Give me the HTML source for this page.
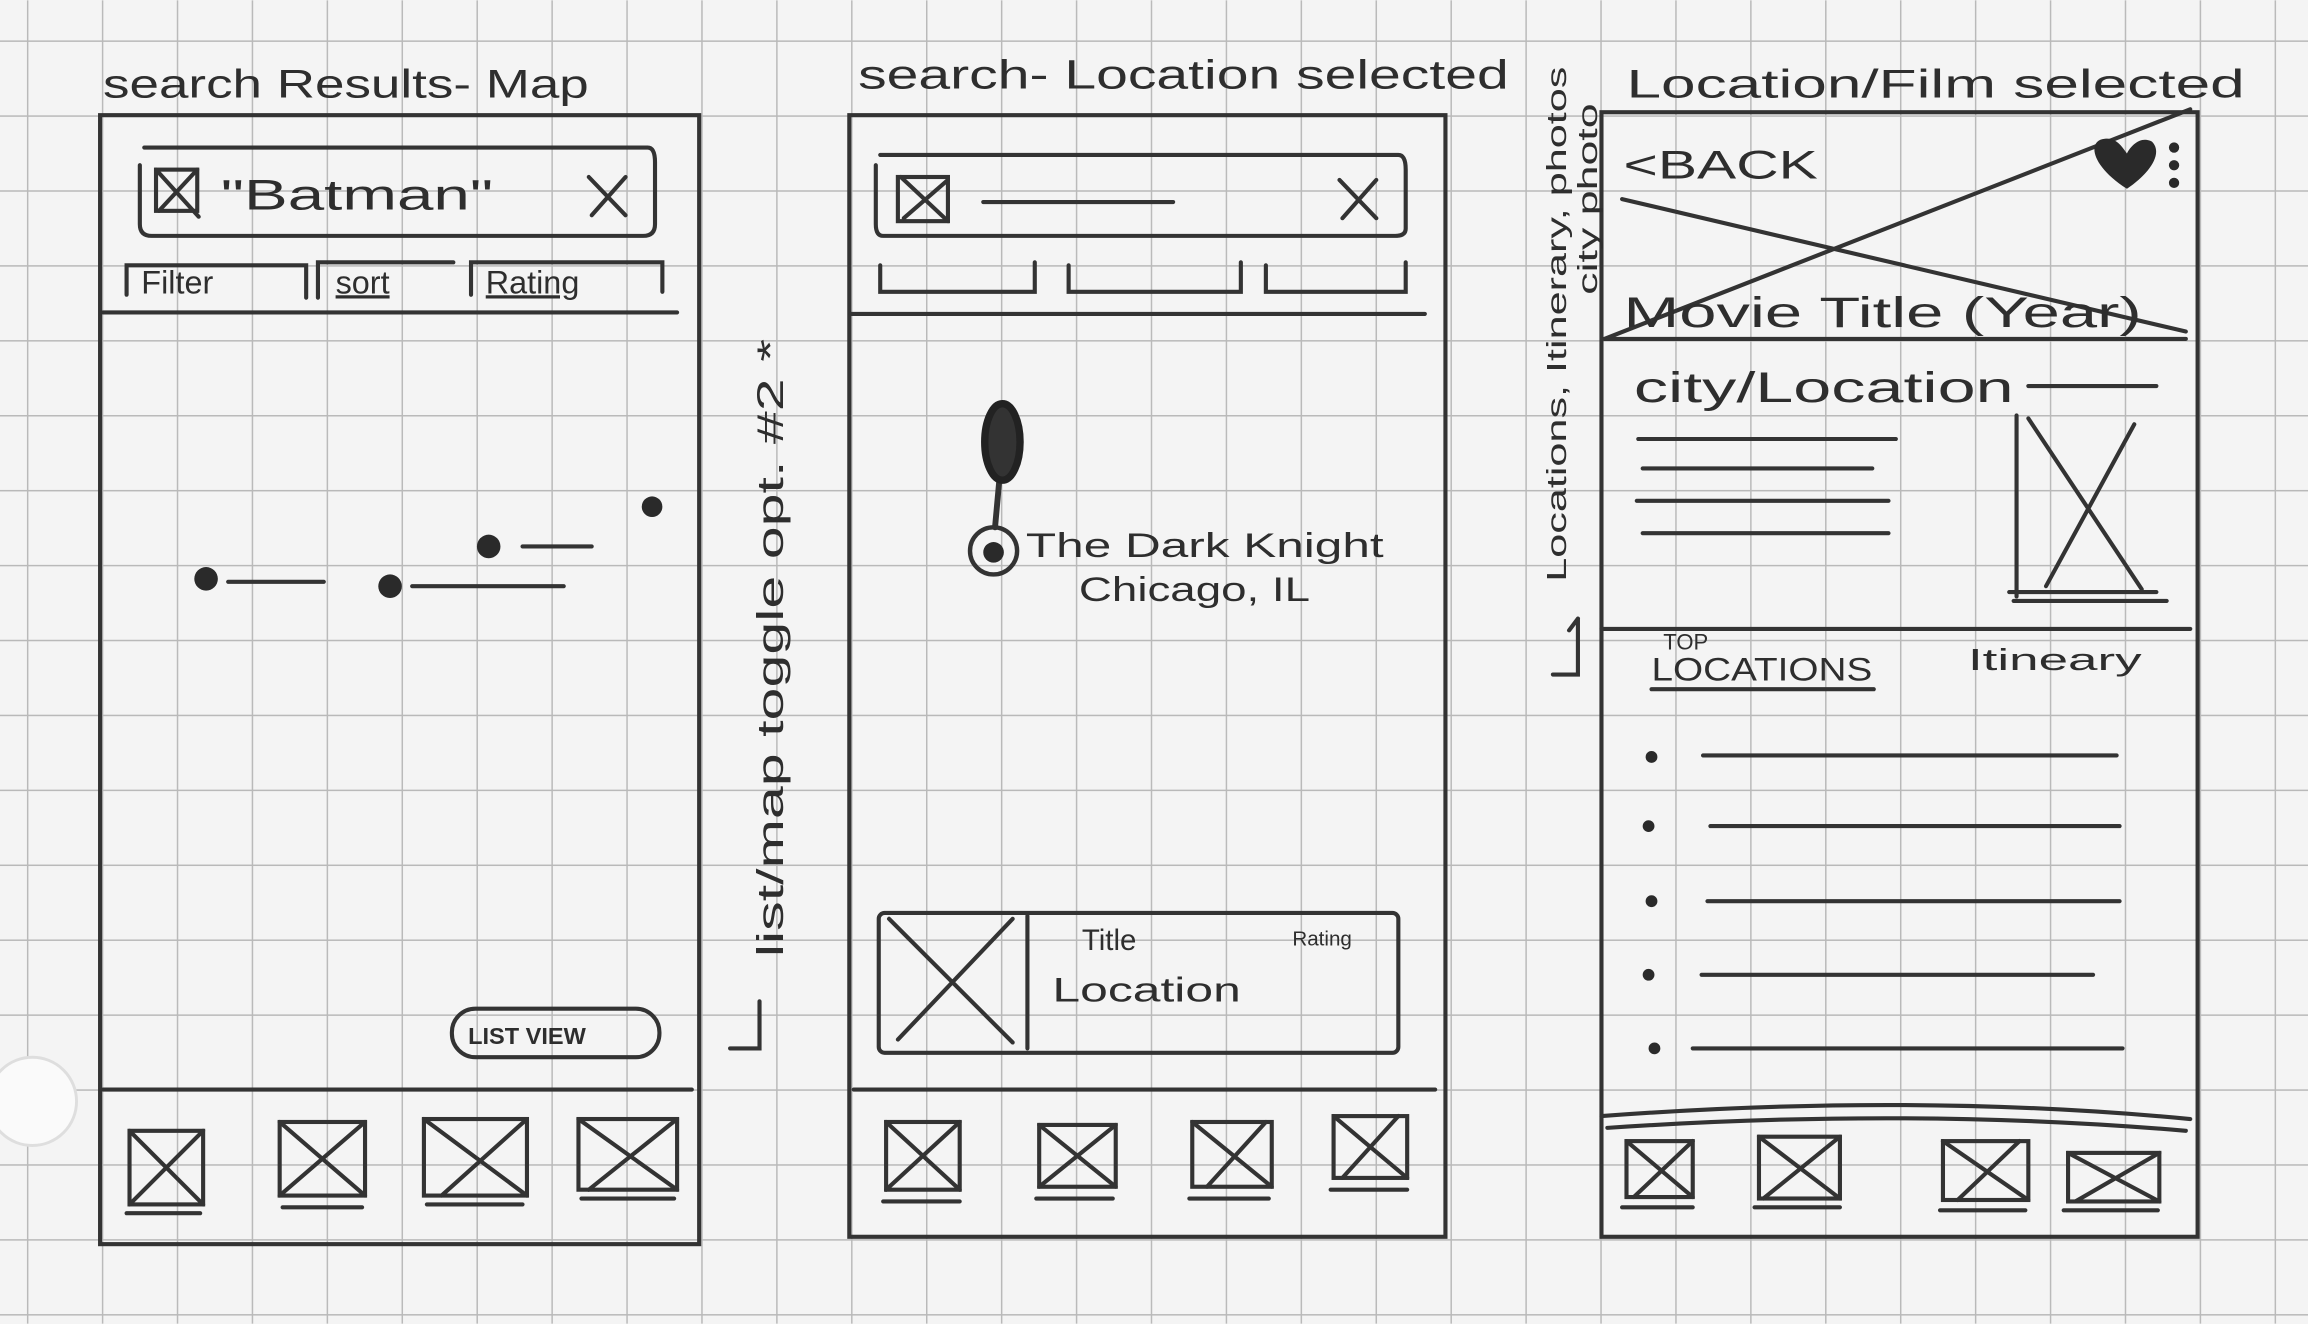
<!DOCTYPE html>
<html><head><meta charset="utf-8"><style>
html,body{margin:0;padding:0;background:#f3f3f3;}
svg{display:block}
text{font-family:"Liberation Sans","DejaVu Sans",sans-serif;fill:#2e2e2e;}
</style></head><body>
<svg width="2308" height="1324" viewBox="0 0 1568 899" xmlns="http://www.w3.org/2000/svg">
<defs>
<pattern id="g" x="18.3" y="27.2" width="50.9" height="50.9" patternUnits="userSpaceOnUse">
<path d="M0 0V50.9M0 0H50.9" stroke="#b9b9b9" stroke-width="2" fill="none"/>
</pattern>
</defs>
<rect width="1568" height="899" fill="#f4f4f4"/>
<rect width="1568" height="899" fill="url(#g)"/>
<circle cx="22" cy="748" r="30" fill="#fafafa" stroke="#dedede" stroke-width="2"/>

<g stroke="#333" stroke-width="2.8" fill="none" stroke-linecap="round">
<rect x="68" y="78" width="407" height="767"/>
<path d="M98 100H440Q445 100 445 110V152Q445 160 437 160H103Q95 160 95 152V112"/>
<rect x="106" y="115" width="28" height="28"/><path d="M106 115L135 147M134 115L108 143"/>
<path d="M400 120L425 146M425 120L402 146"/>
<path d="M86 200V180H208V202M216 202V178H308M320 200V178H450V198"/>
<path d="M70 212H460"/>
<path d="M155 395H220M280 398H383M355 371H402"/>
<rect x="307" y="685" width="141" height="33" rx="16"/>
<path d="M70 740H470"/>
<rect x="88" y="768" width="50" height="50"/><path d="M88 768L138 818M138 768L88 818M86 824H136"/>
<rect x="190" y="762" width="58" height="50"/><path d="M190 762L248 812M248 762L190 812M192 820H246"/>
<rect x="288" y="760" width="70" height="52"/><path d="M288 760L358 812M358 760L300 812M290 818H355"/>
<rect x="393" y="760" width="67" height="48"/><path d="M393 760L460 808M460 760L400 808M395 814H458"/>
<path d="M516 680V712H496"/>
<rect x="577" y="78" width="405" height="762"/>
<path d="M598 105H950Q955 105 955 115V155Q955 160 948 160H600Q595 160 595 152V112"/>
<rect x="610" y="120" width="34" height="30"/><path d="M612 120L644 150M644 122L614 148"/>
<path d="M668 137H797M910 122L935 148M935 122L912 148"/>
<path d="M598 180V198H703V178M726 180V198H843V178M860 180V198H955V178"/>
<path d="M578 213H968"/>
<path d="M679 325L676 358" stroke-width="4"/>
<rect x="597" y="620" width="353" height="95" rx="4"/>
<path d="M604 624L688 708M688 624L610 706M698 622V712"/>
<path d="M580 740H975"/>
<rect x="602" y="762" width="50" height="46"/><path d="M602 762L652 808M652 762L602 808M600 816H652"/>
<rect x="706" y="764" width="52" height="42"/><path d="M706 764L758 806M758 764L706 806M704 814H756"/>
<rect x="810" y="762" width="54" height="44"/><path d="M810 762L864 806M860 762L820 806M808 814H862"/>
<rect x="906" y="758" width="50" height="42"/><path d="M906 758L956 800M950 758L912 800M904 808H956"/>
<path d="M1072 420V458H1055M1072 420L1066 428"/>
<rect x="1088" y="76" width="405" height="764"/>
<path d="M1090 230L1488 74M1102 135L1485 225M1090 230H1485"/>
<path d="M1378 262H1465"/>
<path d="M1113 298H1288M1116 318H1272M1112 340H1283M1116 362H1283"/>
<path d="M1370 282V405M1378 284L1455 400M1450 288L1390 398M1365 402H1465M1368 408H1472"/>
<path d="M1088 427H1488"/>
<path d="M1122 468H1273"/>
<path d="M1157 513H1438M1162 561H1440M1160 612H1440M1156 662H1422M1150 712H1442"/>
<path d="M1088 758Q1300 742 1488 760M1092 766Q1300 752 1485 768"/>
<rect x="1105" y="775" width="45" height="38"/><path d="M1105 775L1150 813M1150 775L1110 813M1102 820H1150"/>
<rect x="1195" y="772" width="55" height="42"/><path d="M1195 772L1250 814M1250 772L1198 814M1192 820H1250"/>
<rect x="1320" y="775" width="58" height="40"/><path d="M1320 775L1378 815M1372 775L1330 815M1318 822H1376"/>
<rect x="1405" y="783" width="62" height="33"/><path d="M1405 783L1467 816M1467 783L1410 816M1402 822H1466"/>
</g>
<g fill="#2a2a2a">
<circle cx="140" cy="393" r="8"/><circle cx="265" cy="398" r="8"/><circle cx="332" cy="371" r="8"/><circle cx="443" cy="344" r="7"/>
<ellipse cx="681" cy="300" rx="12" ry="26" stroke="#222" stroke-width="5" fill="#333"/>
<circle cx="675" cy="375" r="7"/>
<circle cx="1122" cy="514" r="4"/><circle cx="1120" cy="561" r="4"/><circle cx="1122" cy="612" r="4"/><circle cx="1120" cy="662" r="4"/><circle cx="1124" cy="712" r="4"/>
<circle cx="1477" cy="100" r="3.5"/><circle cx="1477" cy="112" r="3.5"/><circle cx="1477" cy="124" r="3.5"/>
<path d="M1445 128C1420 112 1418 95 1430 94C1438 93 1442 100 1445 104C1448 98 1455 92 1462 96C1470 104 1460 118 1445 128Z"/>
</g>
<circle cx="675" cy="374" r="16" fill="none" stroke="#333" stroke-width="3"/>

<text x="70" y="66" font-size="27" textLength="330" lengthAdjust="spacingAndGlyphs">search Results- Map</text>
<text x="150" y="142" font-size="29" textLength="185" lengthAdjust="spacingAndGlyphs">"Batman"</text>
<text x="96" y="199" font-size="22">Filter</text>
<text x="228" y="199" font-size="22" text-decoration="underline">sort</text>
<text x="330" y="199" font-size="22" text-decoration="underline">Rating</text>
<text x="318" y="709" font-size="16" font-weight="bold">LIST VIEW</text>
<text transform="translate(532 650) rotate(-90)" font-size="25" textLength="420" lengthAdjust="spacingAndGlyphs">list/map toggle   opt. #2 *</text>

<text x="583" y="60" font-size="28" textLength="442" lengthAdjust="spacingAndGlyphs">search- Location selected</text>
<text x="697" y="378" font-size="23" textLength="243" lengthAdjust="spacingAndGlyphs">The Dark Knight</text>
<text x="733" y="408" font-size="23" textLength="157" lengthAdjust="spacingAndGlyphs">Chicago, IL</text>
<text x="735" y="645" font-size="20">Title</text>
<text x="878" y="642" font-size="14">Rating</text>
<text x="715" y="680" font-size="23" textLength="128" lengthAdjust="spacingAndGlyphs">Location</text>
<text transform="translate(1064 395) rotate(-90)" font-size="19" textLength="350" lengthAdjust="spacingAndGlyphs">Locations, Itinerary, photos</text>
<text transform="translate(1085 200) rotate(-90)" font-size="19" textLength="130" lengthAdjust="spacingAndGlyphs">city photo</text>

<text x="1105" y="66" font-size="27" textLength="420" lengthAdjust="spacingAndGlyphs">Location/Film selected</text>
<text x="1103" y="121" font-size="27" textLength="132" lengthAdjust="spacingAndGlyphs">&lt;BACK</text>
<text x="1103" y="222" font-size="29" textLength="352" lengthAdjust="spacingAndGlyphs">Movie Title (Year)</text>
<text x="1110" y="273" font-size="29" textLength="258" lengthAdjust="spacingAndGlyphs">city/Location</text>
<text x="1130" y="441" font-size="15">TOP</text>
<text x="1122" y="462" font-size="22" textLength="150" lengthAdjust="spacingAndGlyphs">LOCATIONS</text>
<text x="1337" y="455" font-size="21" textLength="118" lengthAdjust="spacingAndGlyphs">Itineary</text>
</svg>
</body></html>
